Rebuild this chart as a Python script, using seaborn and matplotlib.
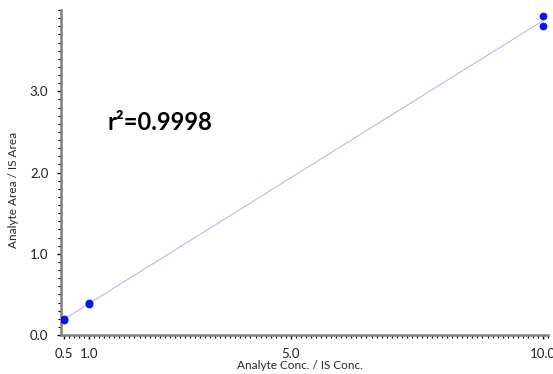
import numpy as np
import pandas as pd
import matplotlib
matplotlib.use("Agg")
import matplotlib.pyplot as plt
import seaborn as sns
from matplotlib.ticker import MultipleLocator

# calibration points
conc = [0.5, 0.5, 1.0, 1.0, 10.0, 10.0]
ratio = [0.19, 0.20, 0.38, 0.40, 3.81, 3.93]
r2_label = "r²=0.9998"

x_ticks = [0.5, 1.0, 5.0, 10.0]
x_labels = ["0.5", "1.0", "5.0", "10.0"]
y_ticks = [0.0, 1.0, 2.0, 3.0]

sns.set_style("white")
plt.rcParams["font.family"] = ["Lato", "DejaVu Sans"]

df = pd.DataFrame({"conc": conc, "ratio": ratio})

# least squares fit line
slope, icpt = np.polyfit(df["conc"], df["ratio"], 1)
fit = pd.DataFrame({"conc": [min(conc), max(conc)]})
fit["ratio"] = slope * fit["conc"] + icpt

fig = plt.figure(figsize=(5.53, 3.74), dpi=100)
ax = fig.add_axes([0.110, 0.104, 0.881, 0.869])

sns.lineplot(data=fit, x="conc", y="ratio", ax=ax, color="#9a9aff",
             lw=0.7, alpha=0.8)
sns.scatterplot(data=df, x="conc", y="ratio", ax=ax, color="#0a14e6",
                s=26, edgecolor="#0a14e6", linewidth=0.5, zorder=3)

ax.set_xlim(0.44, 10.1)
ax.set_ylim(0.0, 4.0)
ax.set_xticks(x_ticks)
ax.set_xticklabels(x_labels)
ax.set_yticks(y_ticks)
ax.set_yticklabels([f"{v:.1f}" for v in y_ticks])
ax.xaxis.set_minor_locator(MultipleLocator(0.1))
ax.yaxis.set_minor_locator(MultipleLocator(0.1))

ax.tick_params(which="major", direction="out", length=3, width=1,
               color="black", labelsize=9.5, pad=6, bottom=True, left=True,
               labelcolor="#222222")
ax.tick_params(which="minor", direction="out", length=2, width=0.8,
               color="black", bottom=True, left=True)

for side in ["top", "right"]:
    ax.spines[side].set_visible(False)
for side in ["left", "bottom"]:
    ax.spines[side].set_color("#808080")
    ax.spines[side].set_linewidth(1.8)

ax.set_xlabel("Analyte Conc. / IS Conc.", fontsize=8.5)
ax.set_ylabel("Analyte Area / IS Area", fontsize=8.5)
ax.xaxis.set_label_coords(0.49, -0.078)
ax.yaxis.set_label_coords(-0.085, 0.446)

ax.text(0.095, 0.655, r2_label, transform=ax.transAxes, fontsize=17,
        fontweight="bold", color="black", ha="left", va="center")

fig.savefig("out.png", dpi=100)
